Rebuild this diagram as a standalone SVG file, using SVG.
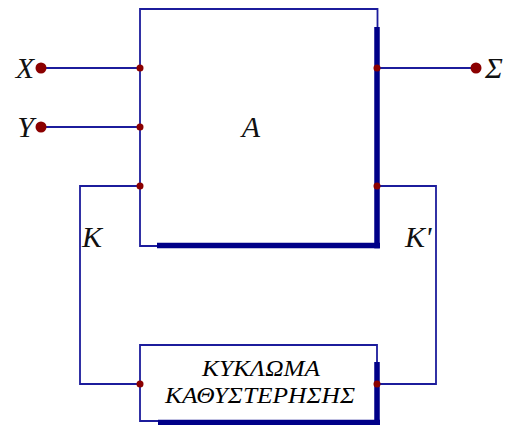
<svg xmlns="http://www.w3.org/2000/svg" width="505" height="425" viewBox="0 0 505 425">
<style>
.thin{fill:none;stroke:#1c1c9c;stroke-width:1.8;stroke-linecap:square}
.thick{fill:none;stroke:#000088;stroke-width:5.5;stroke-linecap:butt}
.pin{fill:#8b0000}
.term{fill:#8b0000}
.lbl{font-family:"Liberation Serif","Times New Roman",serif;font-style:italic;fill:#111}
.big{font-size:30px}
.box{font-size:24px;fill:#000}
</style>
<rect width="505" height="425" fill="#fff"/>
<g id="connectors">
<path class="thin" d="M41 68H140"/>
<path class="thin" d="M41 127H140"/>
<path class="thin" d="M377 68H476"/>
<path class="thin" d="M140 186H80V384H140"/>
<path class="thin" d="M377 186H436V384H377"/>
<text class="lbl big" x="82" y="247">K</text>
<text class="lbl big" x="405" y="247">K'</text>
</g>
<g id="input-X">
<circle class="term" cx="41" cy="68" r="5.5"/>
<text class="lbl big" x="34" y="78" text-anchor="end">X</text>
</g>
<g id="input-Y">
<circle class="term" cx="41" cy="127" r="5.5"/>
<text class="lbl big" x="34" y="137" text-anchor="end">Y</text>
</g>
<g id="output-S">
<circle class="term" cx="476" cy="68" r="5.5"/>
<text class="lbl big" x="485" y="78">Σ</text>
</g>
<g id="block-A">
<path class="thin" d="M140 9H377.5V246H140Z"/>
<path class="thick" d="M377 27V248.5M157 245.5H380"/>
<text class="lbl big" x="251" y="137" text-anchor="middle">A</text>
<circle class="pin" cx="140" cy="68" r="3.5"/>
<circle class="pin" cx="140" cy="127" r="3.5"/>
<circle class="pin" cx="140" cy="186" r="3.5"/>
<circle class="pin" cx="377" cy="68" r="3.5"/>
<circle class="pin" cx="377" cy="186" r="3.5"/>
</g>
<g id="delay-circuit">
<path class="thin" d="M140 345H377V421H140Z"/>
<path class="thick" d="M377 362V425M158 422.5H380"/>
<text class="lbl box" x="202" y="376" textLength="118" lengthAdjust="spacingAndGlyphs">ΚΥΚΛΩΜΑ</text>
<text class="lbl box" x="165" y="403" textLength="190" lengthAdjust="spacingAndGlyphs">ΚΑΘΥΣΤΕΡΗΣΗΣ</text>
<circle class="pin" cx="140" cy="384" r="3.5"/>
<circle class="pin" cx="377" cy="384" r="3.5"/>
</g>
</svg>
